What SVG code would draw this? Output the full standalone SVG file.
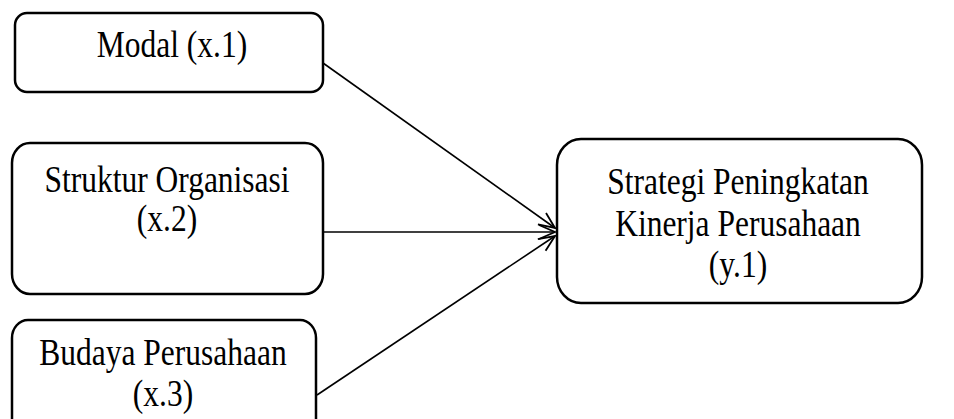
<svg xmlns="http://www.w3.org/2000/svg" width="954" height="419" viewBox="0 0 954 419">
<style>
.box{fill:#fff;stroke:#000;stroke-width:2.5}
.t{font-family:"Liberation Serif",serif;font-size:31.5px;fill:#000;text-anchor:middle}
.c{stroke:#000;stroke-width:1.6;fill:none}
</style>
<defs>
<marker id="arr" markerUnits="userSpaceOnUse" markerWidth="20" markerHeight="18" refX="17" refY="8" orient="auto" viewBox="0 0 20 16">
<path d="M1,1 L17,8 L1,15" fill="none" stroke="#000" stroke-width="1.8"/>
</marker>
</defs>
<rect width="954" height="419" fill="#fff"/>
<g id="node-modal">
<rect class="box" x="15" y="13" width="308" height="79" rx="12" ry="12"/>
<text class="t" transform="translate(172,57) scale(1,1.2)">Modal (x.1)</text>
</g>
<g id="node-struktur">
<rect class="box" x="12" y="143" width="311" height="151" rx="18" ry="20"/>
<text class="t" transform="translate(167,192) scale(1,1.2)">Struktur Organisasi</text>
<text class="t" transform="translate(167,231) scale(1,1.2)">(x.2)</text>
</g>
<g id="node-budaya">
<rect class="box" x="12" y="320" width="304" height="120" rx="16" ry="18"/>
<text class="t" transform="translate(163,365) scale(1,1.2)">Budaya Perusahaan</text>
<text class="t" transform="translate(163,406) scale(1,1.2)">(x.3)</text>
</g>
<g id="node-strategi">
<rect class="box" x="557" y="139" width="365" height="164" rx="24" ry="26"/>
<text class="t" transform="translate(738,194) scale(1,1.2)">Strategi Peningkatan</text>
<text class="t" transform="translate(738,236) scale(1,1.2)">Kinerja Perusahaan</text>
<text class="t" transform="translate(738,277) scale(1,1.2)">(y.1)</text>
</g>
<g id="connectors">
<line class="c" x1="323" y1="63" x2="555" y2="228" marker-end="url(#arr)"/>
<line class="c" x1="323" y1="232" x2="555" y2="232" marker-end="url(#arr)"/>
<line class="c" x1="317" y1="395" x2="555" y2="236" marker-end="url(#arr)"/>
</g>
</svg>
